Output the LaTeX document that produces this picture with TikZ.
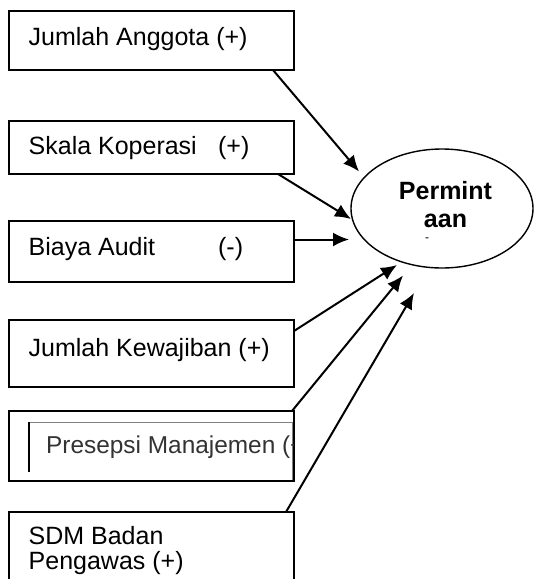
\documentclass[tikz,border=0pt]{standalone}
\usepackage{fontspec}
\setmainfont{Liberation Sans}
\usepackage{tikz}
\usetikzlibrary{shapes.geometric, arrows.meta}
\tikzstyle{factor} = [rectangle, draw, line width=1.6pt, minimum width=285pt, inner sep=0pt, outer sep=0pt]
\tikzstyle{factortext} = [anchor=base west, inner sep=0pt, font=\fontsize{25}{25}\selectfont]
\tikzstyle{target} = [ellipse, draw, line width=1.4pt, minimum width=182pt, minimum height=119pt, inner sep=0pt, outer sep=0pt]
\tikzstyle{arrow} = [draw, -{Latex[length=16pt,width=14pt]}, line width=2pt]

\begin{document}
\begin{tikzpicture}[x=1pt, y=-1pt]
    \path[use as bounding box, clip] (0,0) rectangle (534,579);

    % factors
    \node[factor, minimum height=59pt] at (151.5, 40.5) (ja) {};
    \node[factor, minimum height=53pt] at (151.5, 147.5) (sk) {};
    \node[factor, minimum height=61pt] at (151.5, 251.5) (ba) {};
    \node[factor, minimum height=67pt] at (151.5, 353.5) (kw) {};
    \node[factor, minimum height=70pt] at (151.5, 446) (pm) {};
    \node[factor, minimum height=88pt] at (151.5, 556) (sd) {};

    \node[factortext] at (28.5, 45) (jaT) {Jumlah Anggota (+)};
    \node[factortext] at (28.5, 154) (skT) {\makebox[189.5pt][l]{Skala Koperasi}(+)};
    \node[factortext] at (28.5, 255) (baT) {\makebox[189.5pt][l]{Biaya Audit}(-)};
    \node[factortext] at (28.5, 356) (kwT) {Jumlah Kewajiban (+)};
    \node[factortext] at (28.5, 544) (sdT) {SDM Badan};
    \node[factortext] at (28.5, 569) (sdU) {Pengawas (+)};

    % pasted frame inside the fifth box
    \begin{scope}
        \clip (9, 411) rectangle (293, 481);
        \draw[gray, line width=1pt] (29.3, 422) -- (292, 422) -- (292, 480);
        \draw[line width=2.2pt] (29.3, 422) -- (29.3, 472);
        \node[factortext, text=black!80, font=\fontsize{24.4}{24.4}\selectfont] at (46, 453) (pmT) {Presepsi Manajemen (+)};
    \end{scope}

    % demand
    \node[target] at (442, 208.5) (pa) {};
    \node[align=center, inner sep=0pt, font=\bfseries\fontsize{25}{28}\selectfont] at ([xshift=3.5pt, yshift=3.5pt]pa.center) (paT) {Permint\\aan};
    \node[inner sep=0pt, font=\fontsize{12}{12}\selectfont] at (427, 240) (paR) {-};

    % arrows
    \coordinate (t1) at (359, 171.5);
    \coordinate (t2) at (351, 219);
    \coordinate (t3) at (349, 239.5);
    \coordinate (t4) at (397, 265);
    \coordinate (t5) at (403, 275.5);
    \coordinate (t6) at (414, 293);
    \path[arrow] ([xshift=-21pt]ja.south east) -- (t1);
    \path[arrow] ([xshift=-16pt]sk.south east) -- (t2);
    \path[arrow] (ba.east |- t3) -- (t3);
    \path[arrow] ([yshift=22.5pt]kw.east) -- (t4);
    \path[arrow] ([xshift=-2pt]pm.north east) -- (t5);
    \path[arrow] ([xshift=-8pt]sd.north east) -- (t6);
\end{tikzpicture}
\end{document}
